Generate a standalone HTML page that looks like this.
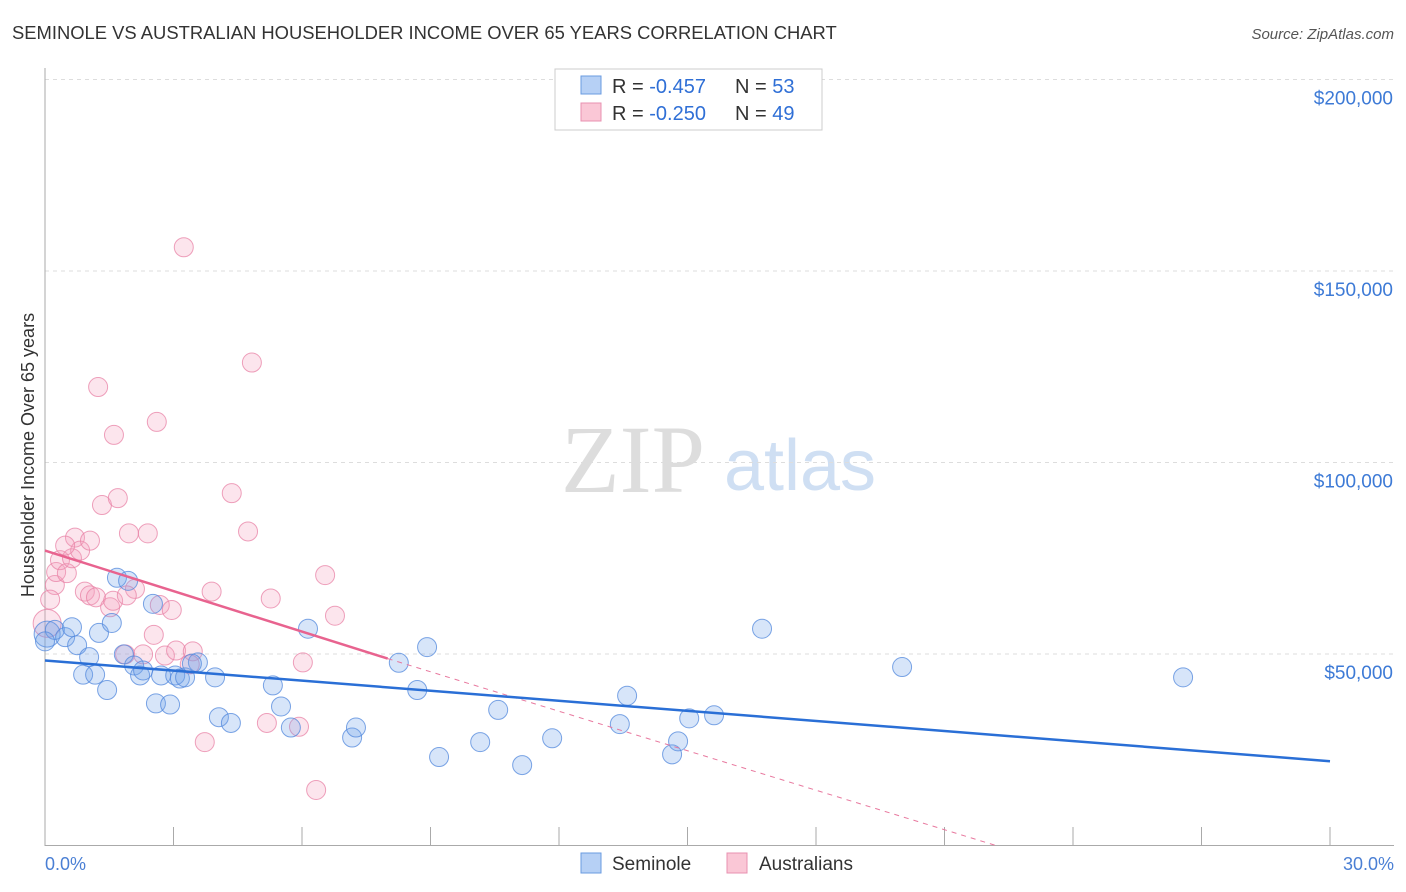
<!DOCTYPE html>
<html><head><meta charset="utf-8"><style>
body{margin:0;background:#fff;font-family:"Liberation Sans",sans-serif;}
#wrap{position:relative;width:1406px;height:892px;overflow:hidden;}
</style></head><body>
<div id="wrap">
<svg id="svg" width="1406" height="892" xmlns="http://www.w3.org/2000/svg">
<text x="12" y="39" font-size="18.4" fill="#333">SEMINOLE VS AUSTRALIAN HOUSEHOLDER INCOME OVER 65 YEARS CORRELATION CHART</text>
<text x="1394" y="39" font-size="15" fill="#555" font-style="italic" text-anchor="end">Source: ZipAtlas.com</text>
<text x="34" y="455" font-size="18" fill="#333" text-anchor="middle" transform="rotate(-90 34 455)">Householder Income Over 65 years</text>
<text x="633" y="492" font-size="96" fill="#ddd" font-family="Liberation Serif,serif" text-anchor="middle">ZIP</text>
<text x="800" y="490" font-size="72" fill="#cfdff3" text-anchor="middle">atlas</text>
<g id="grid"></g><g id="marks"></g>
<g>
<rect x="555" y="69" width="267" height="61" fill="#fff" stroke="#ccc"/>
<rect x="581" y="76" width="20" height="18" fill="#b6d0f5" stroke="#6a9be0"/>
<text x="612" y="93" font-size="20" fill="#333">R = <tspan fill="#2f6fd6">-0.457</tspan></text>
<text x="735" y="93" font-size="20" fill="#333">N = <tspan fill="#2f6fd6">53</tspan></text>
<rect x="581" y="103" width="20" height="18" fill="#fac7d6" stroke="#e890b0"/>
<text x="612" y="120" font-size="20" fill="#333">R = <tspan fill="#2f6fd6">-0.250</tspan></text>
<text x="735" y="120" font-size="20" fill="#333">N = <tspan fill="#2f6fd6">49</tspan></text>
</g>
<g>
<rect x="581" y="853" width="20" height="20" fill="#b6d0f5" stroke="#6a9be0"/>
<text x="612" y="870" font-size="19" fill="#333">Seminole</text>
<rect x="727" y="853" width="20" height="20" fill="#fac7d6" stroke="#e890b0"/>
<text x="759" y="870" font-size="19" fill="#333">Australians</text>
</g>
<text x="45" y="870" font-size="18" fill="#4a7fd4">0.0%</text>
<text x="1394" y="870" font-size="18" fill="#4a7fd4" text-anchor="end">30.0%</text>
</svg></div>
<script>
const yTicks=[50000,100000,150000,200000];
const yTickLabels=["$50,000","$100,000","$150,000","$200,000"];
const seminoleX=[0.05,0.23,0.47,0.63,0.75,1.03,1.26,1.56,0.89,1.17,1.45,1.68,1.94,2.52,1.84,2.08,2.22,2.29,2.71,2.59,2.92,3.04,3.15,3.27,3.57,3.43,3.97,4.06,4.34,5.32,5.51,5.74,6.14,7.17,7.26,8.26,8.69,8.92,9.20,10.16,10.58,11.14,11.84,13.42,13.59,14.64,14.78,15.04,15.62,16.74,20.01,26.57,0.0];
const seminoleY=[55.2,56.3,54.4,57.0,52.3,49.2,55.5,58.1,44.6,44.6,40.6,69.9,69.1,63.1,49.9,47.0,44.4,45.7,44.4,37.1,36.8,44.4,43.6,43.9,47.8,47.5,43.9,33.5,32.0,41.8,36.3,30.8,56.6,28.2,30.8,47.7,40.6,51.8,23.1,27.0,35.4,21.0,28.0,31.7,39.1,23.8,27.2,33.2,34.0,56.6,46.6,43.9,53.3];
const australiansX=[0.05,0.23,0.26,0.35,0.51,0.63,0.70,0.82,1.05,0.93,1.05,1.19,1.33,1.52,1.70,1.61,1.24,1.96,2.10,2.40,2.54,2.68,2.80,2.96,2.61,3.24,3.06,3.45,3.38,3.73,3.89,4.36,4.74,4.83,5.18,5.27,5.93,6.02,6.33,6.54,6.77,1.87,2.29,1.59,1.91,0.47,0.12];
const australiansY=[58.0,68.0,71.4,74.5,71.1,75.0,80.4,77.0,79.6,66.3,65.3,64.8,88.9,62.2,90.7,107.2,119.7,81.5,67.0,81.5,55.0,62.8,49.6,61.5,110.6,156.2,50.9,50.7,47.3,27.0,66.3,92.0,82.0,126.1,32.0,64.5,31.0,47.8,14.5,70.6,60.0,49.9,49.9,63.9,65.3,78.3,64.2];
const seminoleTrend=[0,48300,30,22000];
const australiansTrend=[0,77000,8,48800,22.2,0];
const svg=document.getElementById('svg'),NS='http://www.w3.org/2000/svg';
const X=v=>45+v/30*1285, Y=v=>845.5-v/50000*191.5;
function mk(t,a,p){const e=document.createElementNS(NS,t);for(const k in a)e.setAttribute(k,a[k]);(p||svg).appendChild(e);return e;}
const grid=document.getElementById('grid'),marks=document.getElementById('marks');
yTicks.forEach((t,i)=>{
 const l=mk('line',{x1:45,x2:1394,y1:Y(t),y2:Y(t),stroke:'#ddd','stroke-dasharray':'4,4'},grid);
 
 
 const tx=mk('text',{x:1393,y:Y(t)+25,'font-size':19,fill:'#3d7ad6','text-anchor':'end'},grid);
 tx.textContent=yTickLabels[i];
 
 
});
mk('line',{x1:45,x2:45,y1:68,y2:846,stroke:'#aaa'},grid);
mk('line',{x1:45,x2:1394,y1:845.5,y2:845.5,stroke:'#aaa'},grid);
for(let i=1;i<=10;i++){const t=mk('line',{x1:X(i*3),x2:X(i*3),y1:827,y2:846,stroke:'#aaa'},grid);
 
 }
function dots(xs,ys,fill,stroke,name){xs.forEach((x,i)=>{
 const c=mk('circle',{cx:X(x),cy:Y(ys[i]*1000),r:i==0?(name=='seminole-point'?13:14):9.5,fill:fill,stroke:stroke,'stroke-width':1},marks);
 
 });}
dots(australiansX,australiansY,'rgba(244,160,190,0.28)','rgba(232,130,165,0.75)','australians-point');
dots(seminoleX,seminoleY,'rgba(110,160,235,0.28)','rgba(80,135,220,0.75)','seminole-point');
const a=australiansTrend,s=seminoleTrend;
const pd=mk('line',{x1:X(a[2]),y1:Y(a[3]),x2:X(a[4]),y2:Y(a[5]),stroke:'#e8799f','stroke-dasharray':'5,5','stroke-width':1},marks);


const pl=mk('line',{x1:X(a[0]),y1:Y(a[1]),x2:X(a[2]),y2:Y(a[3]),stroke:'#e8638f','stroke-width':2.5},marks);


const bl=mk('line',{x1:X(s[0]),y1:Y(s[1]),x2:X(s[2]),y2:Y(s[3]),stroke:'#2a6fd6','stroke-width':2.5},marks);


</script>
</body></html>
